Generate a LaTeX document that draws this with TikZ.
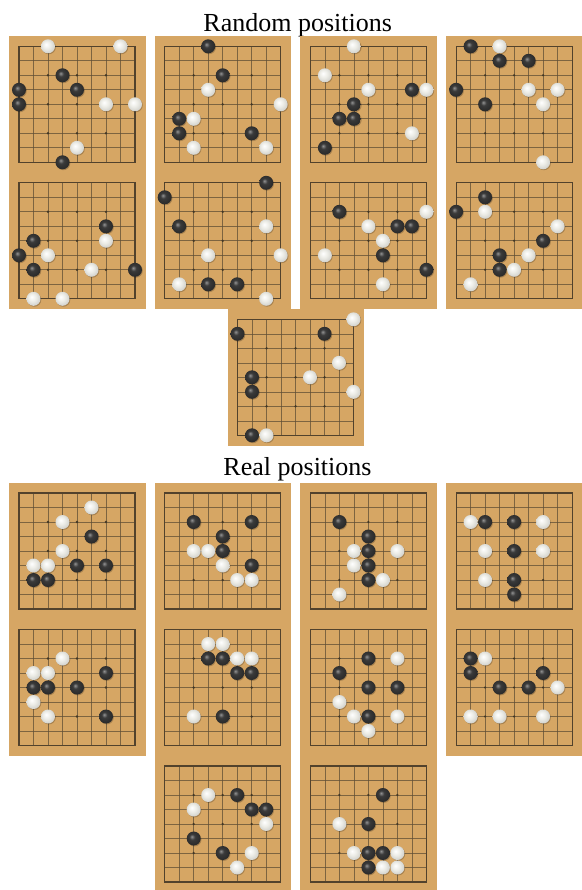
\documentclass[tikz,border=0pt]{standalone}
\usepackage{fontspec}
\setmainfont{Liberation Serif}

\definecolor{boardtan}{RGB}{214,166,100}
\definecolor{gridbrown}{RGB}{96,78,52}
\definecolor{stoneblack}{RGB}{58,58,58}
\definecolor{stonewhite}{RGB}{236,236,230}

% stone shadings, light from the upper left
\pgfdeclareradialshading{blackstoneshade}{\pgfpoint{-7bp}{7bp}}{%
  color(0bp)=(stoneblack!55!white); color(10bp)=(stoneblack);
  color(25bp)=(stoneblack!75!black); color(50bp)=(stoneblack!75!black)}
\pgfdeclareradialshading{whitestoneshade}{\pgfpoint{-7bp}{7bp}}{%
  color(0bp)=(white); color(14bp)=(stonewhite);
  color(25bp)=(stonewhite!80!gray); color(50bp)=(stonewhite!80!gray)}

\tikzset{
  board/.style={fill=boardtan},
  gridline/.style={draw=gridbrown, line width=0.6pt, draw opacity=0.75},
  gridedge/.style={draw=gridbrown!85!black, line width=1.2pt},
  hoshi/.style={fill=gridbrown!70!black},
  stoneshadow/.style={fill=black, opacity=0.22},
  blackstone/.style={shade, shading=blackstoneshade},
  whitestone/.style={shade, shading=whitestoneshade},
  title/.style={font=\fontsize{26}{30}\selectfont, anchor=base, inner sep=0pt}
}

% one 9x9 board: grid corner x, y, black stones c/r, white stones c/r
\newcommand{\goboard}[4]{%
  \begin{scope}[shift={(#1,#2)}]
    \fill[board] (-10,-10) rectangle (126.5,126.5);
    \foreach \k in {1,...,7} {
      \draw[gridline] (\k*14.5,0) -- (\k*14.5,116);
      \draw[gridline] (0,\k*14.5) -- (116,\k*14.5);
    }
    \draw[gridedge] (0,0) rectangle (116,116);
    \foreach \i in {2,4,6}
      \foreach \j in {2,4,6}
        \fill[hoshi] (\i*14.5,\j*14.5) circle (1.3pt);
    \foreach \c/\r in {#3} {
      \fill[stoneshadow] (\c*14.5+0.8,\r*14.5+0.9) circle (7pt);
      \path[blackstone] (\c*14.5,\r*14.5) circle (7pt);
    }
    \foreach \c/\r in {#4} {
      \fill[stoneshadow] (\c*14.5+0.8,\r*14.5+0.9) circle (7pt);
      \path[whitestone] (\c*14.5,\r*14.5) circle (7pt);
    }
  \end{scope}
}

\begin{document}
\begin{tikzpicture}[x=1pt, y=-1pt]
  \useasboundingbox (0,0) rectangle (581,890);

  % Random positions
  \node[title] (randomtitle) at (297.7,31.7) {Random positions};
  \goboard{19}{46.3}{3/2,0/3,4/3,0/4,3/8}{2/0,7/0,6/4,8/4,4/7}
  \goboard{19}{182.8}{6/3,1/4,0/5,1/6,8/6}{6/4,2/5,5/6,1/8,3/8}
  \goboard{164.7}{46.3}{3/0,4/2,1/5,1/6,6/6}{3/3,8/4,2/5,2/7,7/7}
  \goboard{164.7}{182.8}{7/0,0/1,1/3,3/7,5/7}{7/3,3/5,8/5,1/7,7/8}
  \goboard{310.4}{46.3}{7/3,3/4,2/5,3/5,1/7}{3/0,1/2,4/3,8/3,7/6}
  \goboard{310.4}{182.8}{2/2,6/3,7/3,5/5,8/6}{8/2,4/3,5/4,1/5,5/7}
  \goboard{456.1}{46.3}{1/0,3/1,5/1,0/3,2/4}{3/0,5/3,7/3,6/4,6/8}
  \goboard{456.1}{182.8}{2/1,0/2,6/4,3/5,3/6}{2/2,7/3,5/5,4/6,1/7}
  \goboard{237.5}{319.3}{0/1,6/1,1/4,1/5,1/8}{8/0,7/3,5/4,8/5,2/8}

  % Real positions
  \node[title] (realtitle) at (297.5,475.7) {Real positions};
  \goboard{19}{493}{5/3,4/5,6/5,1/6,2/6}{5/1,3/2,3/4,1/5,2/5}
  \goboard{19}{629.5}{6/3,1/4,2/4,4/4,6/6}{3/2,1/3,2/3,1/5,2/6}
  \goboard{164.7}{493}{2/2,6/2,4/3,4/4,6/5}{2/4,3/4,4/5,5/6,6/6}
  \goboard{164.7}{629.5}{3/2,4/2,5/3,6/3,4/6}{3/1,4/1,5/2,6/2,2/6}
  \goboard{164.7}{766}{5/2,6/3,7/3,2/5,4/6}{3/2,2/3,7/4,6/6,5/7}
  \goboard{310.4}{493}{2/2,4/3,4/4,4/5,4/6}{3/4,6/4,3/5,5/6,2/7}
  \goboard{310.4}{629.5}{4/2,2/3,4/4,6/4,4/6}{6/2,2/5,3/6,6/6,4/7}
  \goboard{310.4}{766}{5/2,4/4,4/6,5/6,4/7}{2/4,3/6,6/6,5/7,6/7}
  \goboard{456.1}{493}{2/2,4/2,4/4,4/6,4/7}{1/2,6/2,2/4,6/4,2/6}
  \goboard{456.1}{629.5}{1/2,1/3,6/3,3/4,5/4}{2/2,7/4,1/6,3/6,6/6}
\end{tikzpicture}
\end{document}
